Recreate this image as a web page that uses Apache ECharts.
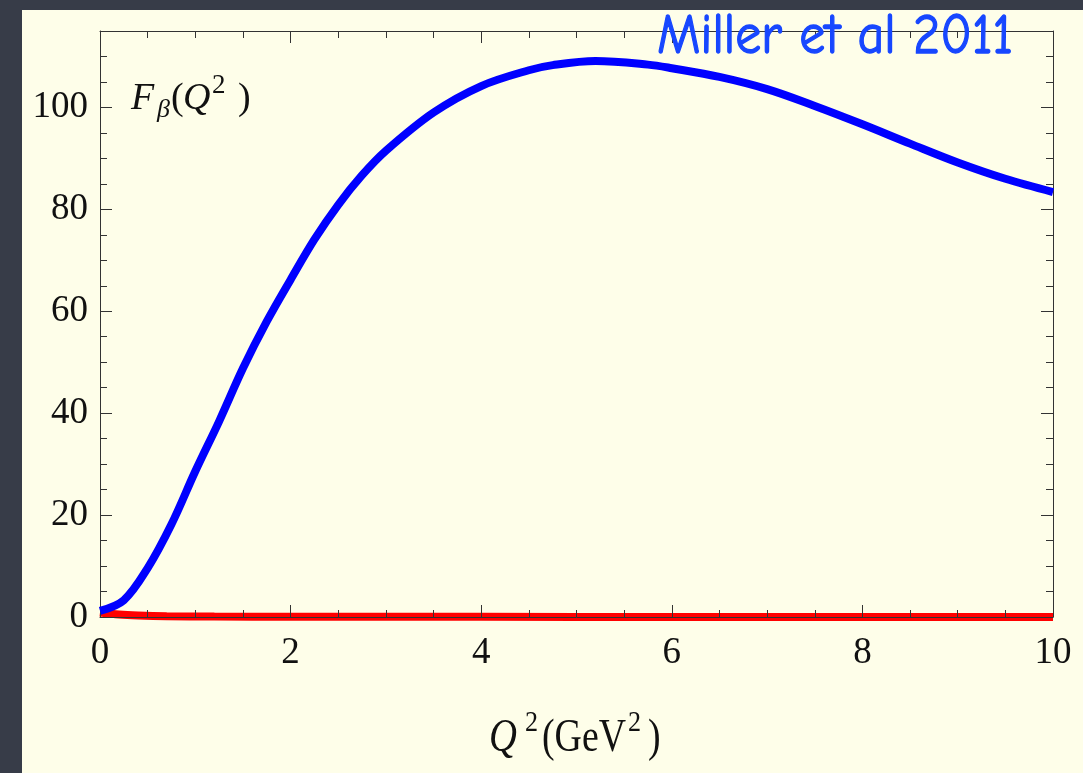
<!DOCTYPE html>
<html>
<head>
<meta charset="utf-8">
<script src="https://cdn.jsdelivr.net/npm/echarts@6/dist/echarts.min.js"></script>
<style>
  html, body { margin: 0; padding: 0; background: #373c48; }
  #chart { width: 1083px; height: 773px; }
</style>
</head>
<body>
<div id="chart"></div>
<script>
// F_beta(Q^2) form factor (blue) and the companion curve hugging zero (red)
const q2Blue = [0, 0.25, 0.5, 0.75, 1.0, 1.25, 1.5, 1.75, 2.0, 2.25, 2.5, 2.75, 3.0, 3.5, 4.0, 4.5, 4.75, 5.2, 5.75, 6.0, 6.5, 7.0, 7.5, 8.0, 8.5, 9.0, 9.5, 10];
const fBlue  = [1.2, 3.3, 9.6, 18.2, 28.6, 38.4, 48.8, 58.0, 66.2, 74.1, 80.9, 86.7, 91.5, 99.0, 104.2, 107.3, 108.3, 109.1, 108.4, 107.7, 106.0, 103.6, 100.3, 96.7, 92.9, 89.2, 86.0, 83.4];

const q2Red = [0, 0.2, 0.4, 0.7, 1.2, 2, 4, 6, 8, 10];
const fRed  = [0.9, 0.5, 0.3, 0.15, 0.08, 0.05, 0.03, 0.02, 0.01, 0.0];

// axis ranges and tick spacing
const xRange = [0, 10];
const xMajor = 2;
const xMinorSplit = 4;
const yRange = [0, 115];
const yMajor = 20;
const yMinor = 5;

const zip = (xs, ys) => xs.map((x, i) => [x, ys[i]]);

const frameColor = '#333';
const tickStyle = { color: '#333', width: 1 };
const labelFont = { fontFamily: 'Liberation Serif', fontSize: 37, color: '#111' };

function xAxisDef(position, showLabel) {
  return {
    type: 'value', position: position, min: xRange[0], max: xRange[1], interval: xMajor,
    axisLine: { show: true, onZero: false, lineStyle: { color: frameColor, width: 1 } },
    axisTick: { show: true, inside: true, length: 12, lineStyle: tickStyle },
    minorTick: { show: true, splitNumber: xMinorSplit, length: 7, lineStyle: tickStyle },
    axisLabel: Object.assign({ show: showLabel, margin: 18 }, labelFont),
    splitLine: { show: false }, minorSplitLine: { show: false },
    z: 2
  };
}
function yAxisDef(position, interval, tickLen, showLabel, showLine) {
  return {
    type: 'value', position: position, min: yRange[0], max: yRange[1], interval: interval,
    axisLine: { show: showLine, onZero: false, lineStyle: { color: frameColor, width: 1 } },
    axisTick: { show: true, inside: true, length: tickLen, lineStyle: tickStyle },
    axisLabel: Object.assign({ show: showLabel, margin: 12, showMaxLabel: false }, labelFont),
    splitLine: { show: false },
    z: 2
  };
}

// text pieces for the axis titles, placed by baseline
function piece(text, x, baseline, size, italic, extra) {
  const mid = 0.3375 * size;
  return Object.assign({
    type: 'text', x: x, y: baseline, z: 50,
    style: {
      text: text, x: 0, y: -mid,
      fontFamily: 'Liberation Serif', fontSize: size, fontStyle: italic ? 'italic' : 'normal',
      fill: '#111', align: 'left', verticalAlign: 'middle'
    }
  }, extra || {});
}

const chart = echarts.init(document.getElementById('chart'), null, { renderer: 'canvas' });
chart.setOption({
  backgroundColor: '#373c48',
  animation: false,
  grid: { left: 100, right: 30, top: 31, bottom: 156, containLabel: false },
  xAxis: [xAxisDef('bottom', true), xAxisDef('top', false)],
  yAxis: [
    yAxisDef('left', yMajor, 12, true, true),
    yAxisDef('left', yMinor, 7, false, false),
    yAxisDef('right', yMajor, 12, false, true),
    yAxisDef('right', yMinor, 7, false, false)
  ],
  graphic: [
    { type: 'rect', z: -10, shape: { x: 22, y: 10, width: 1061, height: 763 }, style: { fill: '#fefee9' } },
    // y title: F_beta(Q^2)
    piece('F', 131, 112, 38, true),
    piece('\u03B2', 157, 119, 26, true),
    piece('(', 171, 112, 38, false),
    piece('Q', 183, 112, 38, true),
    piece('2', 212, 95, 27, false),
    piece(')', 238, 112, 38, false),
    // x title: Q^2 (GeV^2)
    piece('Q', 489, 754, 42, true, { scaleX: 0.92, scaleY: 1.08 }),
    piece('2', 525, 733, 29, false, { scaleX: 0.9 }),
    piece('(GeV', 542, 754, 42, false, { scaleX: 0.9, scaleY: 1.08 }),
    piece('2', 628, 733, 29, false, { scaleX: 0.9 }),
    piece(')', 648, 754, 42, false, { scaleX: 0.9, scaleY: 1.08 }),
    {
      type: 'text', x: 657, y: 52, z: 60, scaleY: 1.1,
      style: {
        text: 'Miller et al 2011', x: 0, y: -14.2,
        fontFamily: '"Comic Sans MS", "Comic Neue", "Noto Sans"', fontSize: 52,
        fill: '#1747ff', stroke: '#1747ff', lineWidth: 1.2,
        align: 'left', verticalAlign: 'middle'
      }
    }
  ],
  series: [
    {
      type: 'line', xAxisIndex: 0, yAxisIndex: 0, data: zip(q2Red, fRed),
      showSymbol: false, smooth: 0.3, clip: false, z: 1,
      lineStyle: { color: '#ff0000', width: 8 }
    },
    {
      type: 'line', xAxisIndex: 0, yAxisIndex: 0, data: zip(q2Blue, fBlue),
      showSymbol: false, smooth: 0.35, clip: false, z: 3,
      lineStyle: { color: '#0000ff', width: 8 }
    }
  ]
});
</script>
</body>
</html>
